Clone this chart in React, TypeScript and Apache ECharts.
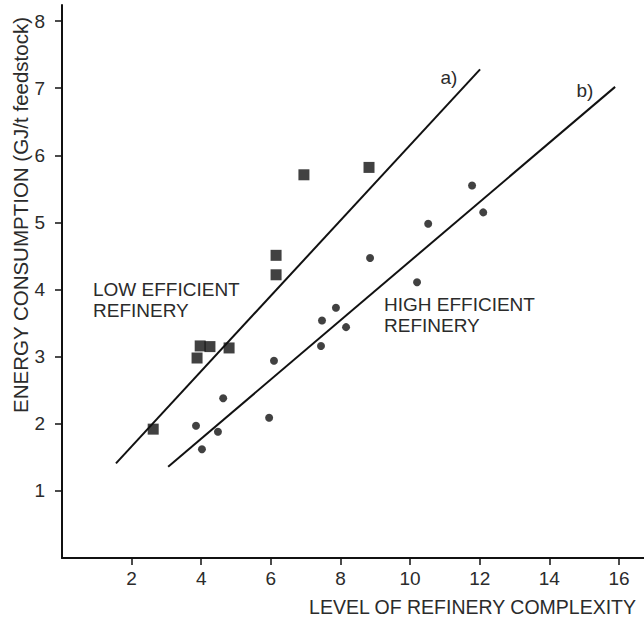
import React, { useEffect, useRef } from "react";
import * as echarts from "echarts";

const lowEfficient: [number, number][] = [
  [2.62, 1.92], [3.88, 2.98], [3.97, 3.16], [4.25, 3.15], [4.8, 3.13],
  [6.15, 4.22], [6.15, 4.51], [6.95, 5.71], [8.82, 5.82],
];
const highEfficient: [number, number][] = [
  [3.85, 1.97], [4.02, 1.62], [4.48, 1.88], [4.63, 2.38], [5.95, 2.09],
  [6.09, 2.94], [7.47, 3.54], [7.44, 3.16], [7.87, 3.73], [8.16, 3.44],
  [8.85, 4.47], [10.2, 4.11], [10.52, 4.98], [11.78, 5.55], [12.1, 5.15],
];
const lineA: [number, number][] = [[1.55, 1.41], [12.01, 7.28]];
const lineB: [number, number][] = [[3.05, 1.36], [15.89, 7.02]];
const xTicks = [2, 4, 6, 8, 10, 12, 14, 16];
const yTicks = [1, 2, 3, 4, 5, 6, 7, 8];

const FONT = "'Liberation Sans', Arial, sans-serif";
const TXT = "#2b2b2b";
const INK = "#111111";

export default function App() {
  const ref = useRef<HTMLDivElement>(null);
  useEffect(() => {
    const chart = echarts.init(ref.current!, null, { renderer: "svg" });
    chart.setOption({
      animation: false,
      backgroundColor: "#ffffff",
      textStyle: { fontFamily: FONT },
      grid: { left: 62, right: 0, top: 5, bottom: 60, containLabel: false },
      xAxis: {
        type: "value",
        min: 0,
        max: 16.72,
        splitLine: { show: false },
        axisLine: { lineStyle: { color: INK, width: 2 } },
        axisTick: { length: 7, lineStyle: { color: INK, width: 1.5 }, customValues: xTicks },
        axisLabel: { customValues: xTicks, color: TXT, fontSize: 19, margin: 11, fontFamily: FONT },
      },
      yAxis: {
        type: "value",
        min: 0,
        max: 8.24,
        splitLine: { show: false },
        axisLine: { lineStyle: { color: INK, width: 2 } },
        axisTick: { length: 7, lineStyle: { color: INK, width: 1.5 }, customValues: yTicks },
        axisLabel: { customValues: yTicks, color: TXT, fontSize: 19, margin: 17, fontFamily: FONT },
      },
      series: [
        {
          type: "scatter",
          name: "Low efficient",
          data: lowEfficient,
          symbol: "rect",
          symbolSize: 11,
          itemStyle: { color: INK },
        },
        {
          type: "scatter",
          name: "High efficient",
          data: highEfficient,
          symbol: "circle",
          symbolSize: 8,
          itemStyle: { color: INK },
        },
        {
          type: "line",
          name: "a)",
          data: lineA,
          symbol: "none",
          lineStyle: { color: INK, width: 2 },
        },
        {
          type: "line",
          name: "b)",
          data: lineB,
          symbol: "none",
          lineStyle: { color: INK, width: 2 },
        },
      ],
      graphic: [
        {
          type: "text",
          x: 20,
          y: 215,
          rotation: Math.PI / 2,
          style: {
            text: "ENERGY CONSUMPTION (GJ/t feedstock)",
            fill: TXT,
            font: `20.5px ${FONT}`,
            align: "center",
            verticalAlign: "middle",
          },
        },
        {
          type: "text",
          x: 636,
          y: 607,
          style: {
            text: "LEVEL OF REFINERY COMPLEXITY",
            fill: TXT,
            font: `19.5px ${FONT}`,
            align: "right",
            verticalAlign: "middle",
          },
        },
        {
          type: "text",
          x: 93,
          y: 279,
          style: {
            text: "LOW EFFICIENT\nREFINERY",
            fill: TXT,
            font: `19px ${FONT}`,
            lineHeight: 21,
            align: "left",
            verticalAlign: "top",
          },
        },
        {
          type: "text",
          x: 384,
          y: 294,
          style: {
            text: "HIGH EFFICIENT\nREFINERY",
            fill: TXT,
            font: `19px ${FONT}`,
            lineHeight: 21,
            align: "left",
            verticalAlign: "top",
          },
        },
        {
          type: "text",
          x: 449,
          y: 77,
          style: { text: "a)", fill: TXT, font: `19px ${FONT}`, align: "center", verticalAlign: "middle" },
        },
        {
          type: "text",
          x: 585,
          y: 90,
          style: { text: "b)", fill: TXT, font: `19px ${FONT}`, align: "center", verticalAlign: "middle" },
        },
      ],
    });
    return () => chart.dispose();
  }, []);
  return (
    <div
      ref={ref}
      style={{ position: "fixed", left: 0, top: 0, width: 644, height: 618, background: "#fff" }}
    />
  );
}
